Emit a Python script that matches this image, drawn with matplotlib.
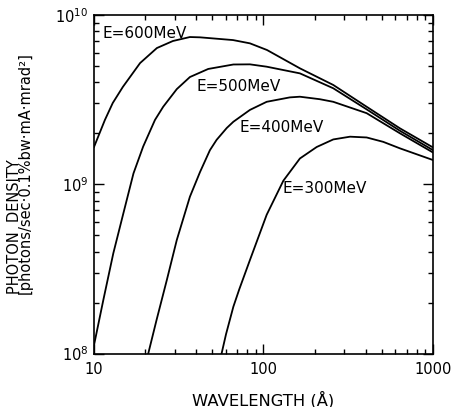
import matplotlib
matplotlib.use("Agg")
import matplotlib.pyplot as plt
from matplotlib.ticker import NullFormatter, LogLocator

# wavelength (Angstrom) and photon density
wl_600 = [10.0, 11.6, 12.9, 14.8, 18.7, 23.5, 29.2, 36.8, 42.2, 66.1, 83.2, 104.9, 164, 258, 406, 638, 1000]
pd_600 = [1.66e9, 2.40e9, 3.02e9, 3.76e9, 5.20e9, 6.38e9, 7.02e9, 7.41e9, 7.38e9, 7.11e9, 6.80e9, 6.21e9,
          4.84e9, 3.86e9, 2.87e9, 2.14e9, 1.65e9]

wl_500 = [10.0, 11.35, 13.0, 14.9, 17.1, 19.5, 22.9, 25.6, 30.8, 36.8, 47.2, 66.4, 83.2, 104.4, 164, 258,
          406, 638, 1000]
pd_500 = [1.12e8, 2.07e8, 3.91e8, 6.73e8, 1.16e9, 1.67e9, 2.40e9, 2.87e9, 3.65e9, 4.30e9, 4.80e9, 5.10e9,
          5.11e9, 4.95e9, 4.52e9, 3.69e9, 2.77e9, 2.07e9, 1.59e9]

wl_400 = [20.9, 23.4, 26.9, 30.8, 36.8, 42.2, 48.3, 52.9, 60.7, 66.4, 83.2, 104.4, 143, 164, 215, 258,
          406, 638, 1000]
pd_400 = [1.0e8, 1.58e8, 2.72e8, 4.69e8, 8.44e8, 1.18e9, 1.59e9, 1.83e9, 2.15e9, 2.34e9, 2.75e9, 3.07e9,
          3.26e9, 3.29e9, 3.18e9, 3.07e9, 2.63e9, 2.00e9, 1.54e9]

wl_300 = [56.6, 60.1, 66.4, 72.0, 83.2, 104.4, 131, 164, 206, 258, 324, 406, 509, 638, 1000]
pd_300 = [1.0e8, 1.30e8, 1.89e8, 2.40e8, 3.57e8, 6.6e8, 1.05e9, 1.42e9, 1.66e9, 1.84e9, 1.91e9, 1.89e9,
          1.78e9, 1.63e9, 1.39e9]

curves = [(wl_600, pd_600), (wl_500, pd_500), (wl_400, pd_400), (wl_300, pd_300)]
labels = ["E=600MeV", "E=500MeV", "E=400MeV", "E=300MeV"]
label_pos = [(11.3, 7.8e9), (40.5, 3.8e9), (71.9, 2.16e9), (129.7, 9.4e8)]

fig = plt.figure(figsize=(4.52, 4.07), dpi=100)
ax = fig.add_axes([94 / 452, 1 - 353.5 / 407, 339 / 452, 338.5 / 407])

for (wl, pd) in curves:
    ax.plot(wl, pd, color="black", lw=1.3)

for txt, (x, y) in zip(labels, label_pos):
    ax.text(x, y, txt, fontsize=11, ha="left", va="center")

ax.set_xscale("log")
ax.set_yscale("log")
ax.set_xlim(10, 1000)
ax.set_ylim(1e8, 1e10)

ax.set_xticks([10, 100, 1000])
ax.set_xticklabels(["10", "100", "1000"])
ax.xaxis.set_minor_locator(LogLocator(base=10, subs=range(2, 10)))
ax.yaxis.set_minor_locator(LogLocator(base=10, subs=range(2, 10)))
ax.xaxis.set_minor_formatter(NullFormatter())
ax.yaxis.set_minor_formatter(NullFormatter())

ax.tick_params(which="both", direction="in", top=True, right=True, width=1.0)
ax.tick_params(which="major", length=7, labelsize=10.5)
ax.tick_params(axis="x", which="major", pad=6)
ax.tick_params(axis="y", which="major", pad=4)
ax.tick_params(which="minor", length=3.8)
for sp in ax.spines.values():
    sp.set_linewidth(1.2)

fig.text(263.5 / 452, 1 - 405 / 407, "WAVELENGTH (Å)", fontsize=11.8, ha="center", va="baseline")
# two-line y label, lines aligned at the bottom
fig.text(34 / 452, 1 - 294 / 407, "PHOTON  DENSITY\n[photons/sec·0.1%bw·mA·mrad²]",
         fontsize=10.5, rotation=90, rotation_mode="anchor", ha="left", va="baseline",
         multialignment="left", linespacing=0.68)

fig.savefig("out.png", dpi=100)
